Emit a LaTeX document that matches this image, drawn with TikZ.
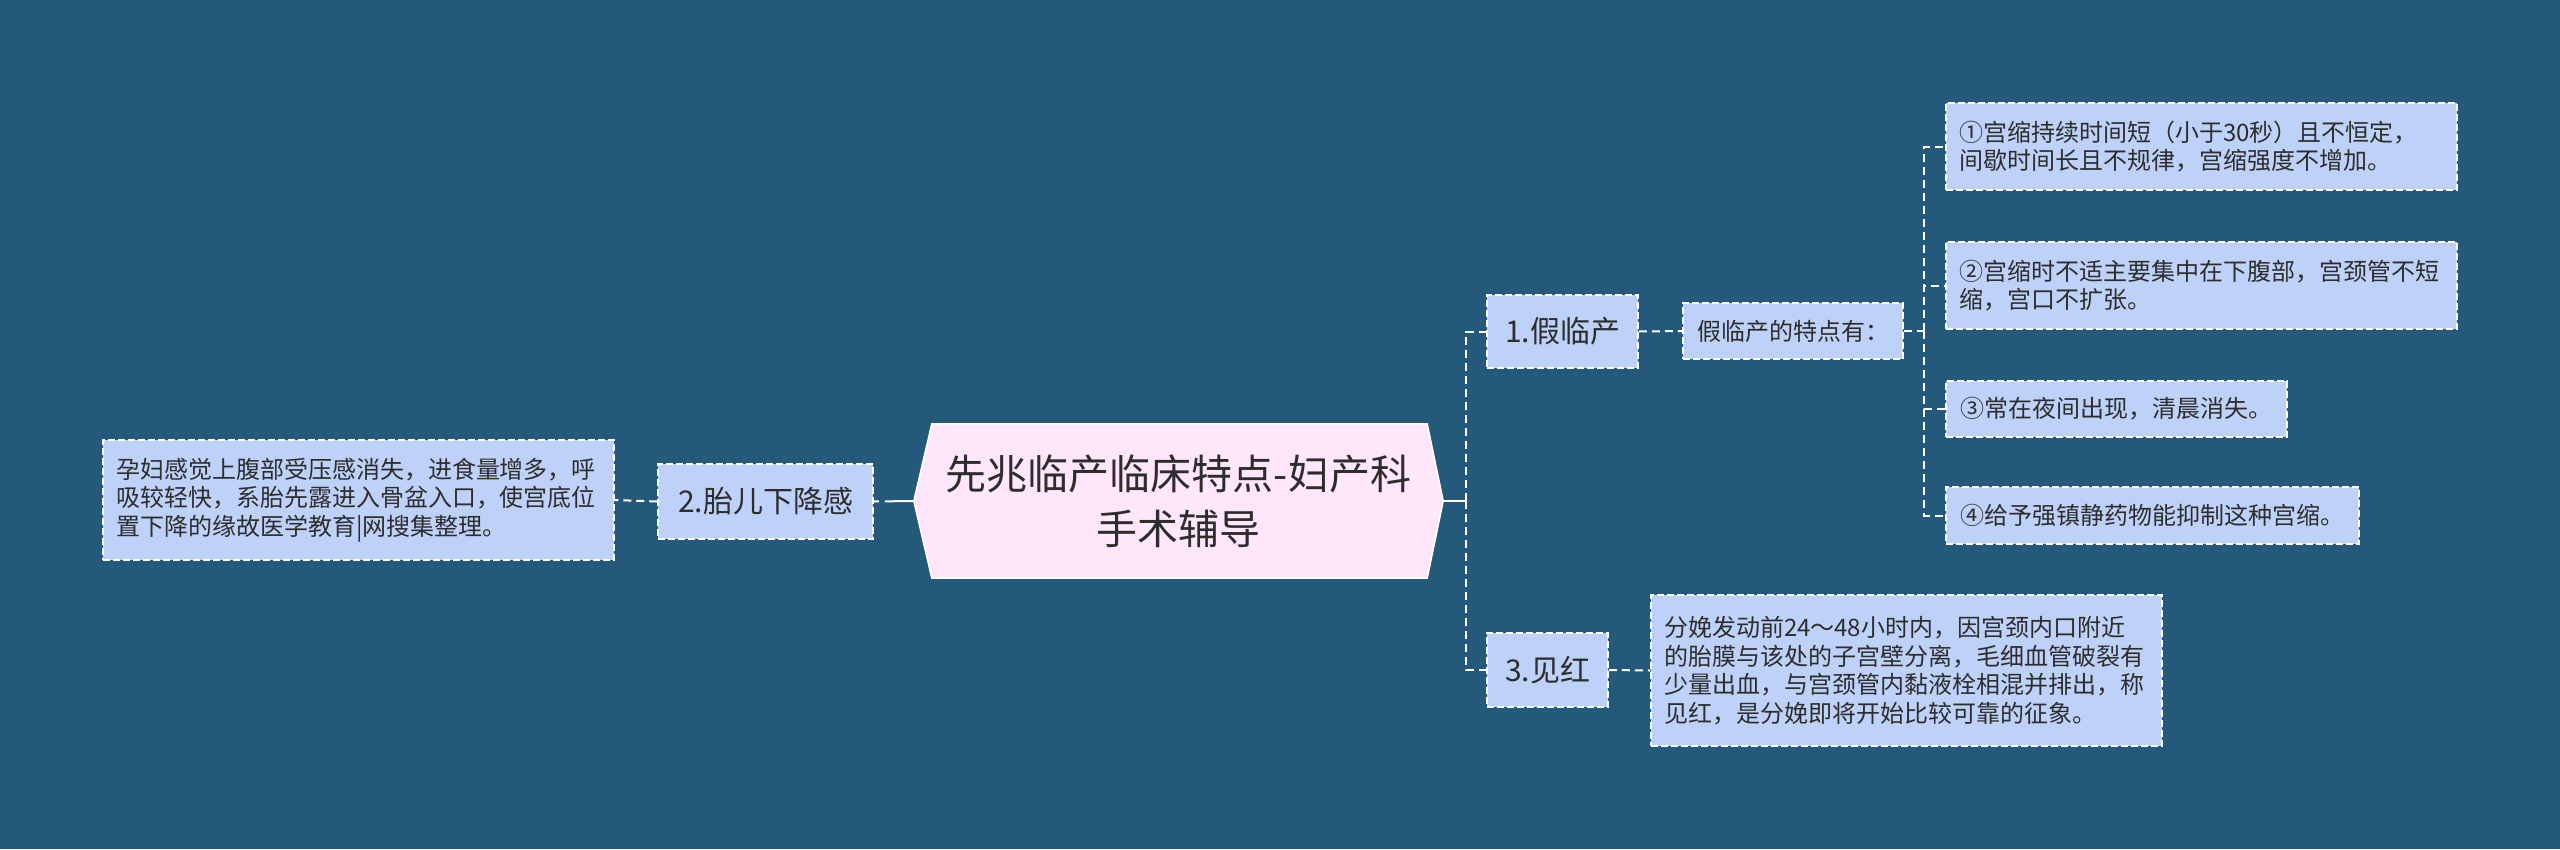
\documentclass[tikz,border=0pt]{standalone}
\usepackage{fontspec}
\setmainfont{Noto Sans CJK SC}
\usetikzlibrary{backgrounds}
\definecolor{bgc}{RGB}{36,89,124}
\definecolor{boxc}{RGB}{190,209,248}
\definecolor{pinkc}{RGB}{255,230,250}
\definecolor{txtc}{RGB}{45,45,45}
\begin{document}
\begin{tikzpicture}[x=1pt,y=-1pt,
  box/.style={draw=white, fill=boxc, dash pattern=on 7pt off 3pt, line width=1.5pt, text=txtc, inner sep=0pt},
  smallbox/.style={box, font=\fontsize{24}{28.5}\selectfont},
  bigbox/.style={box, font=\fontsize{30}{36}\selectfont},
  conn/.style={draw=white, line width=2pt, dash pattern=on 8pt off 5pt},
]
\begin{scope}[on background layer]
\fill[bgc] (0,0) rectangle (2560,849);
\end{scope}
\useasboundingbox (0,0) rectangle (2560,849);

% central
\node[font=\fontsize{41}{55}\selectfont, text=txtc, align=center, minimum width=529pt, minimum height=154pt, inner sep=0pt] (c) at (1178.5,501) {先兆临产临床特点-妇产科\\手术辅导};
\begin{scope}[on background layer]
\draw[fill=pinkc, draw=white, line width=1.5pt] (c.west) -- ([xshift=18pt]c.north west) -- ([xshift=-16pt]c.north east) -- (c.east) -- ([xshift=-16pt]c.south east) -- ([xshift=18pt]c.south west) -- cycle;
\end{scope}

% left branch
\node[bigbox, minimum width=215pt, minimum height=75pt] (n2) at (765.5,501.5) {2.胎儿下降感};
\node[smallbox, minimum width=511pt, minimum height=120pt, text width=485pt, align=left] (l2) at (358.5,500) {孕妇感觉上腹部受压感消失，进食量增多，呼\\吸较轻快，系胎先露进入骨盆入口，使宫底位\\置下降的缘故医学教育|网搜集整理。};

% right branch
\node[bigbox, minimum width=151pt, minimum height=73pt] (n1) at (1562.5,331.5) {1.假临产};
\node[smallbox, minimum width=220pt, minimum height=56pt] (n11) at (1793,331) {假临产的特点有：};
\node[smallbox, minimum width=511pt, minimum height=87pt, text width=485pt, align=left] (a1) at (2201.5,146.5) {①宫缩持续时间短（小于30秒）且不恒定，\\间歇时间长且不规律，宫缩强度不增加。};
\node[smallbox, minimum width=511pt, minimum height=87pt, text width=485pt, align=left] (a2) at (2201.5,285.5) {②宫缩时不适主要集中在下腹部，宫颈管不短\\缩，宫口不扩张。};
\node[smallbox, minimum width=341pt, minimum height=56pt] (a3) at (2116.5,409) {③常在夜间出现，清晨消失。};
\node[smallbox, minimum width=413pt, minimum height=57pt] (a4) at (2152.5,515.5) {④给予强镇静药物能抑制这种宫缩。};

\node[bigbox, minimum width=121pt, minimum height=74pt] (n3) at (1547.5,670) {3.见红};
\node[smallbox, minimum width=511pt, minimum height=151pt, text width=485pt, align=left] (n31) at (1906.5,670.5) {分娩发动前24～48小时内，因宫颈内口附近\\的胎膜与该处的子宫壁分离，毛细血管破裂有\\少量出血，与宫颈管内黏液栓相混并排出，称\\见红，是分娩即将开始比较可靠的征象。};

% connectors
\coordinate (sR) at (1466,501);
\coordinate (sA) at (1924,331);
\draw[white, line width=2pt] (c.east) -- (sR);
\draw[conn] (sR) |- (n1.west);
\draw[conn] (sR) |- (n3.west);
\draw[white, line width=2pt, dash pattern=on 29pt off 6pt on 6pt off 0pt] (c.west) -- (n2.east);
\draw[conn] (n2.west) -- (l2.east);
\draw[conn] (n1.east) -- (n11.west);
\draw[conn] (n11.east) -- (sA);
\draw[conn] (sA) |- (a1.west);
\draw[conn] (sA) |- (a2.west);
\draw[conn] (sA) |- (a3.west);
\draw[conn] (sA) |- (a4.west);
\draw[conn] (n3.east) -- (n31.west);
\end{tikzpicture}
\end{document}
